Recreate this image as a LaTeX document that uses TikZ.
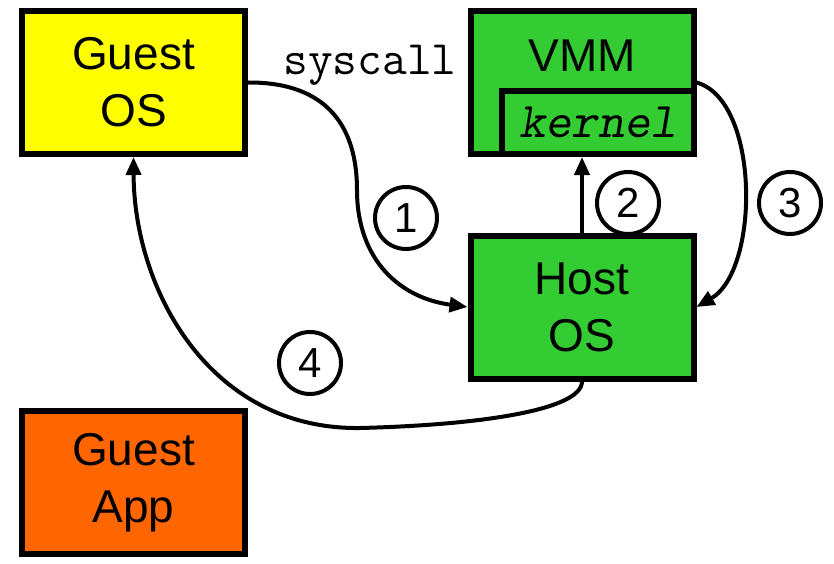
\documentclass[tikz,border=0pt]{standalone}
\usepackage{fontspec}
\setmainfont{Liberation Sans}
\usetikzlibrary{arrows.meta}
\definecolor{gyellow}{HTML}{FFFF00}
\definecolor{vgreen}{HTML}{33CC33}
\definecolor{aorange}{HTML}{FF6600}
\begin{document}
\begin{tikzpicture}[x=1pt,y=-1pt,
  box/.style={draw, line width=6pt, inner sep=0pt, align=center,
    minimum width=223pt, minimum height=143pt,
    font=\fontsize{46}{57}\selectfont},
  numc/.style={draw, circle, line width=4pt, minimum size=62pt, inner sep=0pt,
    font=\fontsize{42}{42}\selectfont},
  conn/.style={line width=4pt, -{Triangle[length=18pt,width=15pt]}}]
\useasboundingbox (0,0) rectangle (834,564);
% boxes
\node[box, fill=gyellow] (guestos) at (133.5,82.5) {Guest\\OS};
\node[box, fill=aorange] (guestapp) at (133.5,482.5) {Guest\\App};
\node[box, fill=vgreen] (vmm) at (582,82.5) {};
\node[draw, line width=6pt, fill=vgreen, inner sep=0pt, minimum width=192pt, minimum height=63pt,
  font=\fontsize{50}{50}\ttfamily\slshape] (kernel) at (598,122.5) {kernel};
\node[font=\fontsize{46}{46}\selectfont, anchor=base, inner sep=0pt] (vmmlabel) at (582,72) {VMM};
\node[box, fill=vgreen] (hostos) at (582,307) {Host\\OS};
% label
\node[font=\fontsize{48}{48}\ttfamily, anchor=base, inner sep=0pt] (syscall) at (370,75) {syscall};
% circles
\node[numc] (c1) at (406,218) {1};
\node[numc] (c2) at (628,203) {2};
\node[numc] (c3) at (790,203) {3};
\node[numc] (c4) at (310,363) {4};
% connectors
\draw[conn] (guestos.east) .. controls (330,82) and (357,130) .. (357,190)
  .. controls (357,260) and (400,298) .. (hostos.west);
\draw[conn] (hostos.north) -- (hostos.north |- kernel.south);
\draw[conn] (vmm.east) .. controls (760,100) and (760,270) .. (hostos.east);
\draw[conn] (hostos.south) .. controls (582,410) and (480,425) .. (360,428)
  .. controls (210,430) and (134,290) .. (guestos.south);
\end{tikzpicture}
\end{document}
